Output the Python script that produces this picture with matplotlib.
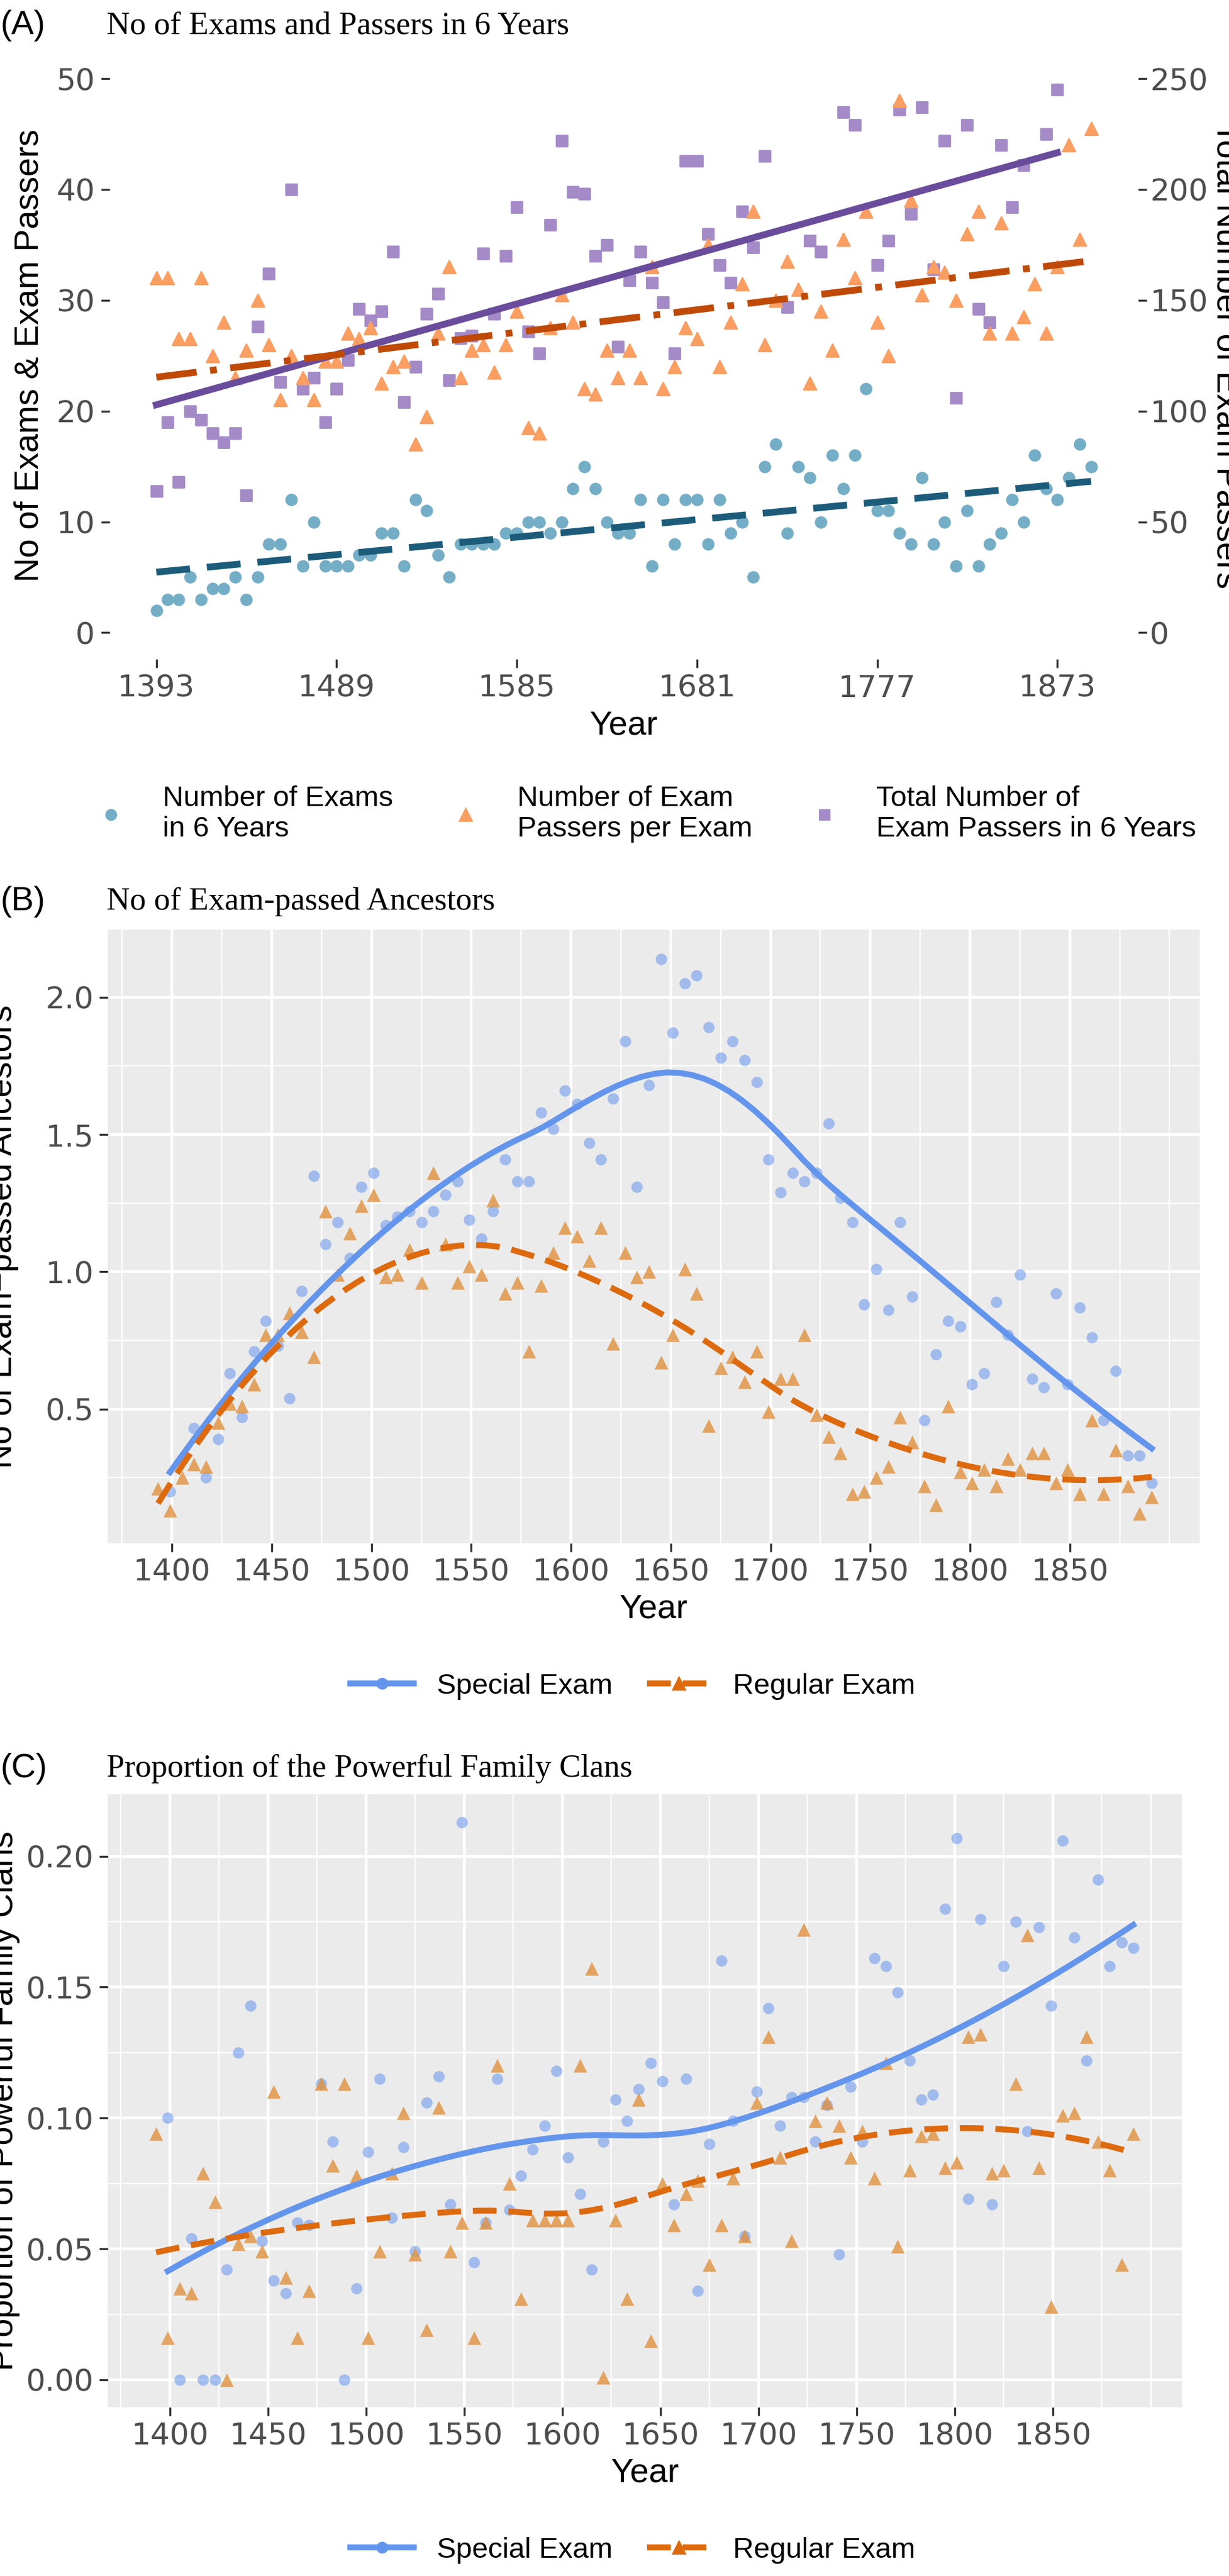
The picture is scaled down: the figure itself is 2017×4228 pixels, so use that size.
import numpy as np
import matplotlib
matplotlib.use('Agg')
import matplotlib.pyplot as plt
from matplotlib.lines import Line2D
from matplotlib.ticker import MultipleLocator, FixedLocator

# ---- panel A data (6-year bins) ----
a_years = np.arange(1393, 1393 + 6 * 84, 6)
a_exams = [2, 3, 3, 5, 3, 4, 4, 5, 3, 5, 8, 8, 12, 6, 10, 6, 6, 6, 7, 7, 9, 9, 6, 12, 11, 7, 5, 8, 8, 8,
           8, 9, 9, 10, 10, 9, 10, 13, 15, 13, 10, 9, 9, 12, 6, 12, 8, 12, 12, 8, 12, 9, 10, 5, 15, 17, 9, 15,
           14, 10, 16, 13, 16, 22, 11, 11, 9, 8, 14, 8, 10, 6, 11, 6, 8, 9, 12, 10, 16, 13, 12, 14, 17, 15]
a_per_exam = [32, 32, 26.5, 26.5, 32, 25, 28, 23, 25.5, 30, 26, 21, 25, 23, 21, 24.5, 24.5, 27, 26.5, 27.5,
              22.5, 24, 24.5, 17, 19.5, 27, 33, 23, 25.5, 26, 23.5, 26, 29, 18.5, 18, 27.5, 30.5, 28, 22, 21.5,
              25.5, 23, 25.5, 23, 33, 22, 24, 27.5, 26.5, 35, 24, 28, 31.5, 38, 26, 30, 33.5, 31, 22.5, 29,
              25.5, 35.5, 32, 38, 28, 25, 48, 39, 30.5, 33, 32.5, 30, 36, 38, 27, 37, 27, 28.5, 31.5, 27, 33,
              44, 35.5, 45.5]
nan = np.nan
a_total = [64, 95, 68, 100, 96, 90, 86, 90, 62, 138, 162, 113, 200, 110, 115, 95, 110, 123, 146, 141, 145,
           172, 104, 120, 144, 153, 114, 133, 134, 171, 144, 170, 192, 136, 126, 184, 222, 199, 198, 170, 175,
           129, 159, 172, 158, 149, 126, 213, 213, 180, 166, 158, 190, 174, 215, nan, 147, nan, 177, 172, nan,
           235, 229, nan, 166, 177, 236, 189, 237, 164, 222, 106, 229, 146, 140, 220, 192, 211, nan, 225, 245,
           nan, nan, nan]

# ---- panel B data ----
b_special_years = np.arange(1399, 1399 + 6 * 83, 6)
b_special = [0.20, nan, 0.43, 0.25, 0.39, 0.63, 0.47, 0.71, 0.82, 0.73, 0.54, 0.93, 1.35, 1.10, 1.18, 1.05,
             1.31, 1.36, 1.17, 1.20, 1.22, 1.18, 1.22, 1.28, 1.33, 1.19, 1.12, 1.22, 1.41, 1.33, 1.33, 1.58,
             1.52, 1.66, 1.61, 1.47, 1.41, 1.63, 1.84, 1.31, 1.68, 2.14, 1.87, 2.05, 2.08, 1.89, 1.78, 1.84,
             1.77, 1.69, 1.41, 1.29, 1.36, 1.33, 1.36, 1.54, 1.27, 1.18, 0.88, 1.01, 0.86, 1.18, 0.91, 0.46,
             0.70, 0.82, 0.80, 0.59, 0.63, 0.89, 0.77, 0.99, 0.61, 0.58, 0.92, 0.59, 0.87, 0.76, 0.46, 0.64,
             0.33, 0.33, 0.23]
b_regular_years = np.arange(1393, 1393 + 6 * 84, 6)
b_regular = [0.21, 0.13, 0.25, 0.30, 0.29, 0.45, 0.52, 0.51, 0.59, 0.77, 0.77, 0.85, 0.78, 0.69, 1.22, 0.99,
             1.14, 1.24, 1.28, 0.98, 0.99, 1.08, 0.96, 1.36, 1.10, 0.96, 1.02, 0.99, 1.26, 0.92, 0.96, 0.71,
             0.95, 1.07, 1.16, 1.13, 1.04, 1.16, 0.74, 1.07, 0.98, 1.00, 0.67, 0.77, 1.01, 0.92, 0.44, 0.65,
             0.69, 0.60, 0.71, 0.49, 0.61, 0.61, 0.77, 0.48, 0.40, 0.34, 0.19, 0.20, 0.25, 0.29, 0.47, 0.38,
             0.22, 0.15, 0.51, 0.27, 0.23, 0.28, 0.22, 0.32, 0.28, 0.34, 0.34, 0.23, 0.28, 0.19, 0.46, 0.19,
             0.35, 0.22, 0.12, 0.18]

# ---- panel C data ----
c_special_years = np.arange(1399, 1399 + 6 * 83, 6)
c_special = [0.100, 0.000, 0.054, 0.000, 0.000, 0.042, 0.125, 0.143, 0.053, 0.038, 0.033, 0.060, 0.059,
             0.113, 0.091, 0.000, 0.035, 0.087, 0.115, 0.062, 0.089, 0.049, 0.106, 0.116, 0.067, 0.213, 0.045,
             0.060, 0.115, 0.065, 0.078, 0.088, 0.097, 0.118, 0.085, 0.071, 0.042, 0.091, 0.107, 0.099, 0.111,
             0.121, 0.114, 0.067, 0.115, 0.034, 0.090, 0.160, 0.099, 0.055, 0.110, 0.142, 0.097, 0.108, 0.108,
             0.091, 0.105, 0.048, 0.112, 0.091, 0.161, 0.158, 0.148, 0.122, 0.107, 0.109, 0.180, 0.207, 0.069,
             0.176, 0.067, 0.158, 0.175, 0.095, 0.173, 0.143, 0.206, 0.169, 0.122, 0.191, 0.158, 0.167, 0.165]
c_regular_years = np.arange(1393, 1393 + 6 * 84, 6)
c_regular = [0.094, 0.016, 0.035, 0.033, 0.079, 0.068, 0.000, 0.052, 0.055, 0.049, 0.110, 0.039, 0.016,
             0.034, 0.113, 0.082, 0.113, 0.078, 0.016, 0.049, 0.079, 0.102, 0.048, 0.019, 0.104, 0.049, 0.060,
             0.016, 0.060, 0.120, 0.075, 0.031, 0.061, 0.061, 0.061, 0.061, 0.120, 0.157, 0.001, 0.061, 0.031,
             0.107, 0.015, 0.075, 0.059, 0.071, 0.076, 0.044, 0.059, 0.077, 0.055, 0.106, 0.131, 0.085, 0.053,
             0.172, 0.099, 0.106, 0.097, 0.085, 0.095, 0.077, 0.121, 0.051, 0.080, 0.093, 0.094, 0.081, 0.083,
             0.131, 0.132, 0.079, 0.080, 0.113, 0.170, 0.081, 0.028, 0.101, 0.102, 0.131, 0.091, 0.080, 0.044,
             0.094]

BG = '#EBEBEB'
SPECIAL = '#6495ED'
REGULAR = '#DD6A0E'
REG_PT = '#E0913F'
TICKFONT = ['Liberation Sans Narrow', 'DejaVu Sans']
SANS = ['Liberation Sans', 'DejaVu Sans']
SERIF = ['Liberation Serif', 'DejaVu Serif']


def loess(x, y, span=0.75, n=80):
    x = np.asarray(x, float); y = np.asarray(y, float)
    ok = ~np.isnan(y); x, y = x[ok], y[ok]
    q = int(np.ceil(span * len(x)))
    grid = np.linspace(x.min(), x.max(), n)
    out = []
    for g in grid:
        d = np.abs(x - g)
        h = np.sort(d)[q - 1]
        w = np.clip(1 - (d / h) ** 3, 0, None) ** 3
        X = np.vstack([np.ones_like(x), x - g, (x - g) ** 2]).T
        W = np.sqrt(w)
        beta = np.linalg.lstsq(X * W[:, None], y * W, rcond=None)[0]
        out.append(beta[0])
    return grid, np.array(out)


def style(ax):
    ax.set_facecolor(BG)
    ax.grid(True, which='major', color='white', lw=1.6)
    ax.grid(True, which='minor', color='white', lw=0.8)
    ax.set_axisbelow(True)
    for s in ax.spines.values():
        s.set_visible(False)
    ax.tick_params(which='major', length=5, width=1.2, color='#333333', labelsize=18,
                   labelcolor='#4D4D4D')
    ax.tick_params(which='minor', length=0)
    for lab in ax.get_xticklabels() + ax.get_yticklabels():
        lab.set_family(TICKFONT)


fig = plt.figure(figsize=(10.085, 21.14), dpi=200)

# ---------- panel A ----------
ax = fig.add_axes([0.089, 0.744, 0.837, 0.236])
ax2 = ax.twinx()
ax.set_xlim(1368, 1916)
ax.set_ylim(-2.42, 52.45)
ax2.set_ylim(-2.42 * 5, 52.45 * 5)
ax.xaxis.set_major_locator(FixedLocator([1393, 1489, 1585, 1681, 1777, 1873]))
ax.xaxis.set_minor_locator(FixedLocator([1441, 1537, 1633, 1729, 1825]))
ax.yaxis.set_major_locator(MultipleLocator(10))
ax.yaxis.set_minor_locator(MultipleLocator(5))
ax2.yaxis.set_major_locator(MultipleLocator(50))
ax.set_zorder(ax2.get_zorder() + 1)
ax.patch.set_visible(False)
ax2.set_facecolor(BG)
for s in ax2.spines.values():
    s.set_visible(False)
ax2.tick_params(length=5, width=1.2, color='#333333', labelsize=18, labelcolor='#4D4D4D', pad=2)
for lab in ax2.get_yticklabels():
    lab.set_family(TICKFONT)
style(ax)

tot = np.array(a_total, float)
ok = ~np.isnan(tot)
ax.scatter(a_years[ok], tot[ok] / 5, marker='s', s=40, color='#A48BC8', zorder=3)
ax.scatter(a_years, a_per_exam, marker='^', s=55, color='#FA9E62', zorder=3)
ax.scatter(a_years, a_exams, marker='o', s=40, color='#74ADC6', zorder=3)

for yrs, vals, col, ls in [(a_years[ok], tot[ok] / 5, '#6A4C9C', '-'),
                           (a_years, np.array(a_per_exam), '#BF4A08', (0, (6, 2, 1, 2))),
                           (a_years, np.array(a_exams), '#1C5C7A', (0, (5, 2.5)))]:
    k, b = np.polyfit(yrs, vals, 1)
    xs = np.array([yrs.min(), yrs.max()])
    ax.plot(xs, k * xs + b, color=col, lw=4, ls=ls, zorder=4)

ax.set_xlabel('Year', fontsize=20, family=SANS)
ax.set_ylabel('No of Exams & Exam Passers', fontsize=20, family=SANS)
ax.yaxis.set_label_coords(-0.062, 0.5)
ax2.set_ylabel('Total Number of Exam Passers', fontsize=20, family=SANS, rotation=270, va='bottom')
ax2.yaxis.set_label_coords(1.07, 0.5)

fig.text(0.0, 0.99, '(A)', fontsize=20, family=SANS, va='center')
fig.text(0.087, 0.99, 'No of Exams and Passers in 6 Years', fontsize=19, family=SERIF, va='center')

hA = [Line2D([], [], ls='', marker='o', color='#74ADC6', ms=6),
      Line2D([], [], ls='', marker='^', color='#FA9E62', ms=7),
      Line2D([], [], ls='', marker='s', color='#A48BC8', ms=6)]
fig.legend(hA, ['Number of Exams\nin 6 Years', 'Number of Exam\nPassers per Exam',
                'Total Number of\nExam Passers in 6 Years'],
           loc='center', bbox_to_anchor=(0.52, 0.684), ncol=3, frameon=False,
           prop={'family': SANS, 'size': 17}, handletextpad=0.8, columnspacing=1.5)


# ---------- panels B and C ----------
def panel(rect, sy, sv, ry, rv, xlim, ylim, ymaj, ymin, ylabel, label, title, ty, ly, fmt):
    ax = fig.add_axes(rect)
    ax.set_xlim(*xlim)
    ax.set_ylim(*ylim)
    ax.xaxis.set_major_locator(FixedLocator(list(range(1400, 1851, 50))))
    ax.xaxis.set_minor_locator(FixedLocator(list(range(1375, 1901, 50)) + [1900]))
    ax.yaxis.set_major_locator(MultipleLocator(ymaj))
    ax.yaxis.set_minor_locator(MultipleLocator(ymin))
    ax.yaxis.set_major_formatter(fmt)
    style(ax)
    ax.scatter(sy, sv, marker='o', s=45, color=SPECIAL, alpha=0.55, lw=0, zorder=3)
    ax.scatter(ry, rv, marker='^', s=65, color=REG_PT, alpha=0.8, lw=0, zorder=3)
    gx, gy = loess(sy, sv)
    ax.plot(gx, gy, color=SPECIAL, lw=3.5, zorder=4)
    gx, gy = loess(ry, rv)
    ax.plot(gx, gy, color=REGULAR, lw=3.5, ls=(0, (4, 2)), zorder=4)
    ax.set_xlabel('Year', fontsize=20, family=SANS)
    ax.set_ylabel(ylabel, fontsize=20, family=SANS)
    ax.yaxis.set_label_coords(-0.082, 0.5)
    fig.text(0.0, ty, label, fontsize=20, family=SANS, va='center')
    fig.text(0.087, ty, title, fontsize=19, family=SERIF, va='center')
    h = [Line2D([], [], color=SPECIAL, lw=3.5, marker='o', ms=6),
         Line2D([], [], color=REGULAR, lw=3.5, marker='^', ms=7, ls=(0, (4, 2)))]
    fig.legend(h, ['Special Exam', 'Regular Exam'], loc='center', bbox_to_anchor=(0.515, ly),
               ncol=2, frameon=False, prop={'family': SANS, 'size': 17}, handlelength=2.2,
               columnspacing=1.2)


panel([0.088, 0.401, 0.888, 0.238], b_special_years, b_special, b_regular_years, b_regular,
      (1368, 1915), (0.012, 2.245), 0.5, 0.25, 'No of Exam\u2212passed Ancestors', '(B)',
      'No of Exam-passed Ancestors', 1 - 1480 / 4228, 1 - 2768 / 4228,
      matplotlib.ticker.FormatStrFormatter('%.1f'))
panel([0.088, 0.0655, 0.874, 0.238], c_special_years, c_special, c_regular_years, c_regular,
      (1368.6, 1916), (-0.0105, 0.2237), 0.05, 0.025, 'Proportion of Powerful Family Clans', '(C)',
      'Proportion of the Powerful Family Clans', 1 - 2903 / 4228, 1 - 4186 / 4228,
      matplotlib.ticker.FormatStrFormatter('%.2f'))

fig.savefig('out.png', dpi=200, facecolor='white')
